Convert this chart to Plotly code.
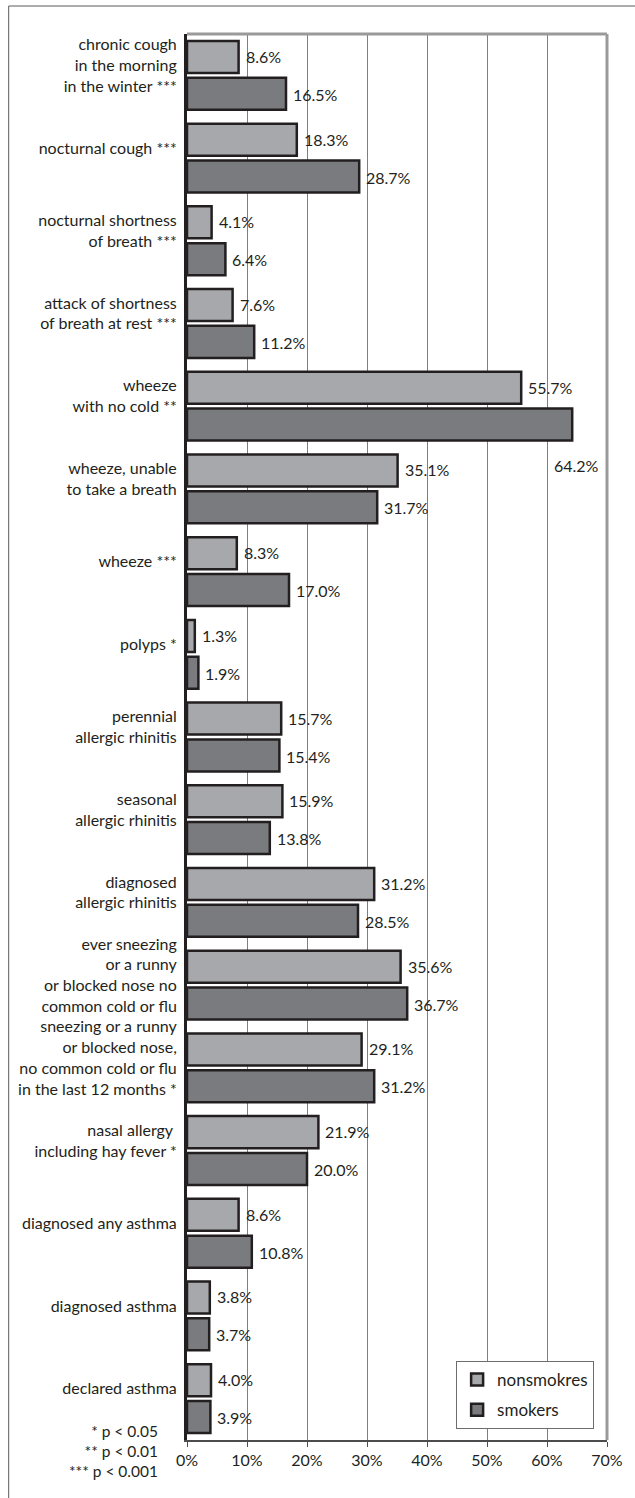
import plotly.graph_objects as go

categories = [
    "chronic cough<br>in the morning<br>in the winter ***",
    "nocturnal cough ***",
    "nocturnal shortness<br>of breath ***",
    "attack of shortness<br>of breath at rest ***",
    "wheeze<br>with no cold **",
    "wheeze, unable<br>to take a breath",
    "wheeze ***",
    "polyps *",
    "perennial<br>allergic rhinitis",
    "seasonal<br>allergic rhinitis",
    "diagnosed<br>allergic rhinitis",
    "ever sneezing<br>or a runny<br>or blocked nose no<br>common cold or flu",
    "sneezing or a runny<br>or blocked nose,<br>no common cold or flu<br>in the last 12 months *",
    "nasal allergy <br>including hay fever *",
    "diagnosed any asthma",
    "diagnosed asthma",
    "declared asthma",
]
nonsmokers = [8.6, 18.3, 4.1, 7.6, 55.7, 35.1, 8.3, 1.3, 15.7, 15.9, 31.2, 35.6, 29.1, 21.9, 8.6, 3.8, 4.0]
smokers = [16.5, 28.7, 6.4, 11.2, 64.2, 31.7, 17.0, 1.9, 15.4, 13.8, 28.5, 36.7, 31.2, 20.0, 10.8, 3.7, 3.9]
series_names = ["nonsmokres", "smokers"]
x_tick_values = [0, 10, 20, 30, 40, 50, 60, 70]
x_tick_labels = ["0%", "10%", "20%", "30%", "40%", "50%", "60%", "70%"]
footnotes = ["* p < 0.05", "** p < 0.01", "*** p < 0.001"]

W, H = 635, 1498
ML, MR, MT, MB = 187, 24, 34, 58
PW, PH = W - ML - MR, H - MT - MB
FONT = "Lato"
TXT = "#231f20"
FS = 16


def px_x(px):
    return (px - ML) / PW


def px_y(py):
    return (H - MB - py) / PH


fig = go.Figure()
colors = ["#a7a8ab", "#7a7b7e"]
for name, vals, col, grp in zip(series_names, [nonsmokers, smokers], colors, ["a", "b"]):
    fig.add_trace(go.Bar(
        y=categories, x=vals, name=name, orientation="h",
        marker=dict(color=col, line=dict(color=TXT, width=2.5)),
        legendgroup=grp,
    ))

# value labels
annotations = []
for vals, side in [(nonsmokers, 1), (smokers, -1)]:
    for cat, v in zip(categories, vals):
        txt = f"{v:.1f}%"
        if v > 60:
            annotations.append(dict(x=v, y=cat, xref="x", yref="y", text=txt, showarrow=False,
                                    xanchor="center", xshift=4, yshift=-59,
                                    font=dict(size=FS, color=TXT, family=FONT)))
        else:
            annotations.append(dict(x=v, y=cat, xref="x", yref="y", text=txt, showarrow=False,
                                    xanchor="left", xshift=5, yshift=19 * side,
                                    font=dict(size=FS, color=TXT, family=FONT)))

annotations.append(dict(x=px_x(160), y=px_y(1451), xref="paper", yref="paper",
                        text="<br>".join(footnotes), showarrow=False, align="right",
                        xanchor="right", yanchor="middle",
                        font=dict(size=15.5, color=TXT, family=FONT)))

shapes = [
    dict(type="line", xref="paper", yref="paper", x0=0, x1=1, y0=1, y1=1,
         line=dict(color="#9a9a9a", width=3)),
    dict(type="line", xref="paper", yref="paper", x0=1, x1=1, y0=0, y1=1,
         line=dict(color="#9a9a9a", width=3)),
    dict(type="line", xref="paper", yref="paper", x0=px_x(7), x1=px_x(640), y0=px_y(6), y1=px_y(6),
         line=dict(color="#5a5a5a", width=1)),
    dict(type="line", xref="paper", yref="paper", x0=px_x(7), x1=px_x(7), y0=px_y(6), y1=px_y(1505),
         line=dict(color="#5a5a5a", width=1)),
]

fig.update_layout(
    width=W, height=H,
    margin=dict(l=ML, r=MR, t=MT, b=MB, pad=0),
    paper_bgcolor="white", plot_bgcolor="white",
    barmode="group", bargap=0.11, bargroupgap=0.13,
    font=dict(family=FONT, size=FS, color=TXT),
    showlegend=True,
    legend=dict(x=px_x(598), y=px_y(1429), xanchor="right", yanchor="bottom",
                bgcolor="white", bordercolor="#6d6d6d", borderwidth=1,
                traceorder="grouped", tracegroupgap=5,
                font=dict(size=17, color=TXT, family=FONT)),
    annotations=annotations,
    shapes=shapes,
)
fig.update_xaxes(range=[0, 70], tickvals=x_tick_values, ticktext=x_tick_labels,
                 showgrid=True, gridcolor="#7f7f7f", gridwidth=1, zeroline=False,
                 showline=True, linecolor="#4d4d4d", linewidth=2,
                 ticks="outside", ticklen=5, tickcolor="#4d4d4d", tickwidth=1,
                 tickfont=dict(size=FS, family=FONT, color=TXT), fixedrange=True)
fig.update_yaxes(type="category", range=[16.5, -0.5], showgrid=False, zeroline=False,
                 showline=True, linecolor=TXT, linewidth=3, ticks="",
                 ticklabelstandoff=4, ticklabelshift=10,
                 tickfont=dict(size=FS, family=FONT, color=TXT), fixedrange=True)

fig.write_html("out.html", config={"displayModeBar": False},
               post_script="document.body.style.margin='0';")
